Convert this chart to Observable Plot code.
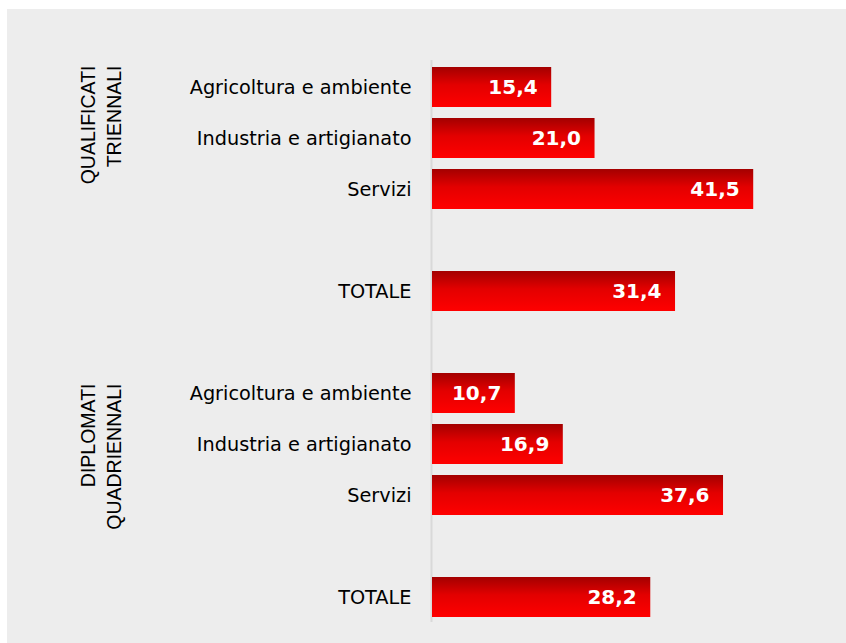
<!DOCTYPE html>
<html>
<head>
<meta charset="utf-8">
<script src="https://cdn.jsdelivr.net/npm/d3@7"></script>
<script src="https://cdn.jsdelivr.net/npm/@observablehq/plot@0.6"></script>
<style>
  html, body { margin: 0; padding: 0; background: #ffffff; }
  #wrap { position: absolute; left: 7px; top: 9px; width: 839px; height: 634px; background: #ededed; }
</style>
</head>
<body>
<div id="wrap"></div>
<script>
const groups = ["QUALIFICATI\nTRIENNALI", "DIPLOMATI\nQUADRIENNALI"];
const groupKeys = ["Q", "D"];
const categories = ["Agricoltura e ambiente", "Industria e artigianato", "Servizi", "TOTALE"];
const triennali = [15.4, 21.0, 41.5, 31.4];
const quadriennali = [10.7, 16.9, 37.6, 28.2];

const seriesValues = [triennali, quadriennali];
const data = [];
groupKeys.forEach((g, gi) => {
  categories.forEach((c, ci) => {
    data.push({ key: g + "|" + c, group: groups[gi], category: c, value: seriesValues[gi][ci] });
  });
});

// band order with empty gaps between sections
const domain = [];
groupKeys.forEach((g, gi) => {
  categories.forEach((c, ci) => {
    if (c === "TOTALE") domain.push(g + "|gap");
    domain.push(g + "|" + c);
  });
  if (gi < groupKeys.length - 1) domain.push("gap" + gi);
});

const fmt = v => d3.format(".1f")(v).replace(".", ",");
const labelOf = k => (k.includes("|") && !k.endsWith("|gap")) ? k.split("|")[1] : "";

const plot = Plot.plot({
  width: 839,
  height: 634,
  marginLeft: 425,
  marginRight: 27,
  marginTop: 58,
  marginBottom: 26,
  style: { background: "#ededed", color: "#000", fontFamily: "DejaVu Sans, sans-serif" },
  x: { domain: [0, 50], axis: null },
  y: { domain, paddingInner: 0.216, paddingOuter: 0, label: null },
  marks: [
    Plot.axisY({
      ticks: data.map(d => d.key),
      tickFormat: labelOf,
      tickSize: 0,
      tickPadding: 21,
      fontSize: 19.3,
      label: null
    }),
    Plot.ruleX([0], { stroke: "#d9d9d9", strokeWidth: 2, dx: -1, insetTop: -7, insetBottom: -5 }),
    Plot.barX(data, { x: "value", y: "key", fill: "url(#barGrad)" }),
    Plot.text(data, {
      x: "value", y: "key", text: d => fmt(d.value),
      textAnchor: "end", dx: -14, fill: "#ffffff",
      fontWeight: "bold", fontSize: 20, fontFamily: "DejaVu Sans, sans-serif"
    }),
    Plot.text([data[0]], {
      y: "key", text: "group", frameAnchor: "left", rotate: -90,
      textAnchor: "end", dx: -332.5, dy: -22, lineHeight: 1.32,
      fontSize: 19.5, fontFamily: "Liberation Sans, Arial, sans-serif", fill: "#000"
    }),
    Plot.text([data[4]], {
      y: "key", text: "group", frameAnchor: "left", rotate: -90,
      textAnchor: "end", dx: -332.5, dy: -10, lineHeight: 1.32,
      fontSize: 19.5, fontFamily: "Liberation Sans, Arial, sans-serif", fill: "#000"
    })
  ]
});

const svg = d3.select(plot);
const grad = svg.insert("defs", ":first-child")
  .append("linearGradient")
  .attr("id", "barGrad")
  .attr("x1", 0).attr("y1", 0).attr("x2", 0).attr("y2", 1);
grad.append("stop").attr("offset", "0%").attr("stop-color", "#a30000");
grad.append("stop").attr("offset", "45%").attr("stop-color", "#e30000");
grad.append("stop").attr("offset", "100%").attr("stop-color", "#ff0000");

document.getElementById("wrap").appendChild(plot);
</script>
</body>
</html>
